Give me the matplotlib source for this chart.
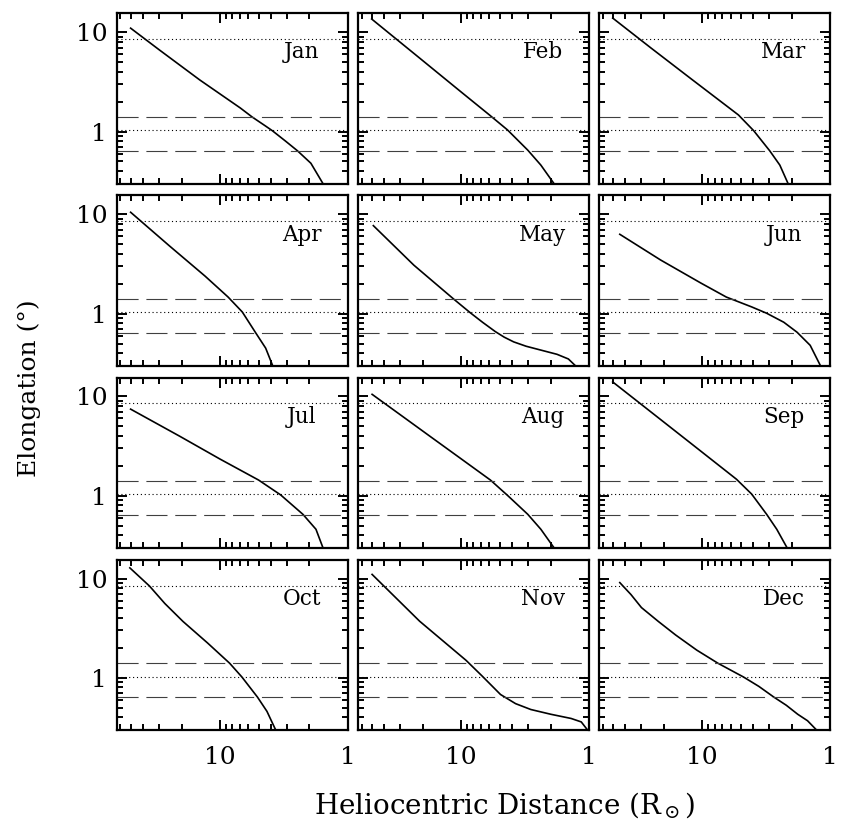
import matplotlib
matplotlib.use('Agg')
import matplotlib.pyplot as plt
from matplotlib.ticker import FixedLocator, FixedFormatter, LogLocator, NullFormatter

plt.rcParams['font.family'] = ['DejaVu Serif']
plt.rcParams['mathtext.fontset'] = 'dejavuserif'

# Elongation vs heliocentric distance, one panel per month
months = ['Jan', 'Feb', 'Mar', 'Apr', 'May', 'Jun',
          'Jul', 'Aug', 'Sep', 'Oct', 'Nov', 'Dec']

jan_dist = [50, 29.8, 14.4, 6.95, 5.6, 4.42, 3.9, 3.07, 2.48, 1.95, 1.57]
jan_elong = [11, 6.64, 3.31, 1.73, 1.4, 1.14, 1.02, 0.80, 0.64, 0.48, 0.30]
feb_dist = [50, 21.1, 10.2, 6.0, 4.34, 3.01, 2.38, 1.88]
feb_elong = [13.6, 5.5, 2.56, 1.47, 1.04, 0.65, 0.46, 0.30]
mar_dist = [50, 25.3, 12.2, 5.2, 3.95, 2.96, 2.47, 2.13]
mar_elong = [13.9, 7.0, 3.4, 1.47, 1.02, 0.64, 0.46, 0.30]
apr_dist = [50, 24.8, 13.1, 8.65, 6.7, 5.3, 4.4, 3.88]
apr_elong = [10.5, 4.8, 2.39, 1.47, 1.04, 0.65, 0.45, 0.30]
may_dist = [48.5, 23.4, 11.4, 8.46, 6.8, 5.4, 4.6, 3.88, 3.1, 2.55, 1.78, 1.45, 1.28]
may_elong = [7.7, 3.08, 1.4, 1.02, 0.82, 0.66, 0.58, 0.52, 0.47, 0.44, 0.39, 0.35, 0.30]
jun_dist = [44, 21.1, 10.2, 6.47, 4.1, 3.13, 2.3, 1.81, 1.43, 1.19]
jun_elong = [6.3, 3.47, 2.03, 1.47, 1.17, 1.01, 0.82, 0.65, 0.48, 0.30]
jul_dist = [50, 20.7, 10, 5.0, 3.36, 2.25, 1.78, 1.57]
jul_elong = [7.45, 3.98, 2.34, 1.44, 1.02, 0.65, 0.46, 0.30]
aug_dist = [49.6, 30.4, 17.6, 10.2, 5.9, 4.34, 3.01, 2.38, 1.88]
aug_elong = [10.5, 6.65, 3.99, 2.40, 1.44, 1.01, 0.65, 0.46, 0.30]
sep_dist = [50, 25.3, 12.2, 5.4, 4.1, 3.13, 2.61, 2.17]
sep_elong = [14.0, 7.03, 3.36, 1.47, 1.04, 0.65, 0.46, 0.30]
oct_dist = [50.7, 35.6, 27, 19.5, 12.5, 8.4, 6.75, 5.1, 4.3, 3.68]
oct_elong = [12.8, 8.4, 5.6, 3.7, 2.24, 1.4, 1.02, 0.64, 0.46, 0.30]
nov_dist = [49.6, 21.1, 9.14, 6.83, 4.92, 3.75, 2.85, 1.99, 1.38, 1.15, 1.03]
nov_elong = [11, 3.72, 1.50, 1.04, 0.68, 0.55, 0.48, 0.43, 0.39, 0.36, 0.30]
dec_dist = [44, 36, 29.8, 22, 16.1, 11, 7.5, 4.75, 3.6, 2.75, 2.2, 1.79, 1.5, 1.28]
dec_elong = [9.1, 6.9, 5.1, 3.7, 2.7, 1.9, 1.4, 1.02, 0.82, 0.64, 0.53, 0.43, 0.37, 0.30]

dists = [jan_dist, feb_dist, mar_dist, apr_dist, may_dist, jun_dist,
         jul_dist, aug_dist, sep_dist, oct_dist, nov_dist, dec_dist]
elongs = [jan_elong, feb_elong, mar_elong, apr_elong, may_elong, jun_elong,
          jul_elong, aug_elong, sep_elong, oct_elong, nov_elong, dec_elong]

# reference elongations (horizontal lines)
dotted_levels = [8.5, 1.03]
dashed_levels = [1.4, 0.64]

fig, axes = plt.subplots(4, 3, figsize=(8.41, 8.35), dpi=100)
fig.subplots_adjust(left=0.139, right=0.987, top=0.984, bottom=0.126,
                    wspace=0.043, hspace=0.07)

for i, ax in enumerate(axes.flat):
    ax.plot(dists[i], elongs[i], color='black', lw=1.2)
    for lv in dotted_levels:
        ax.axhline(lv, color='black', lw=0.8, ls=(0, (1, 2.5)))
    for lv in dashed_levels:
        ax.axhline(lv, color='0.25', lw=0.8, ls=(0, (19, 7)))
    ax.set_xscale('log')
    ax.set_yscale('log')
    ax.set_xlim(64, 1)
    ax.set_ylim(0.3, 15.5)
    ax.xaxis.set_major_locator(FixedLocator([10, 1]))
    ax.yaxis.set_major_locator(FixedLocator([10, 1]))
    ax.xaxis.set_minor_locator(LogLocator(base=10, subs=range(2, 10), numticks=20))
    ax.yaxis.set_minor_locator(LogLocator(base=10, subs=range(2, 10), numticks=20))
    ax.xaxis.set_minor_formatter(NullFormatter())
    ax.yaxis.set_minor_formatter(NullFormatter())
    ax.xaxis.set_major_formatter(FixedFormatter(['10', '1']))
    ax.yaxis.set_major_formatter(FixedFormatter(['10', '1']))
    ax.tick_params(which='both', direction='in', top=True, right=True, width=1.4)
    ax.tick_params(which='major', length=7.5, labelsize=18)
    ax.tick_params(axis='x', which='major', pad=12)
    ax.tick_params(axis='y', which='major', pad=7)
    ax.tick_params(which='minor', length=4.5)
    for sp in ax.spines.values():
        sp.set_linewidth(1.6)
    if i % 3 != 0:
        ax.tick_params(labelleft=False)
    if i < 9:
        ax.tick_params(labelbottom=False)
    ax.text(0.8, 0.77, months[i], transform=ax.transAxes, fontsize=15.5,
            ha='center', va='center')

fig.text(0.6, 0.036, r'Heliocentric Distance (R$_\odot$)', fontsize=20,
         ha='center', va='center')
fig.text(0.035, 0.535, 'Elongation (°)', fontsize=18, rotation=90,
         ha='center', va='center')

fig.savefig('out.png', dpi=100)
